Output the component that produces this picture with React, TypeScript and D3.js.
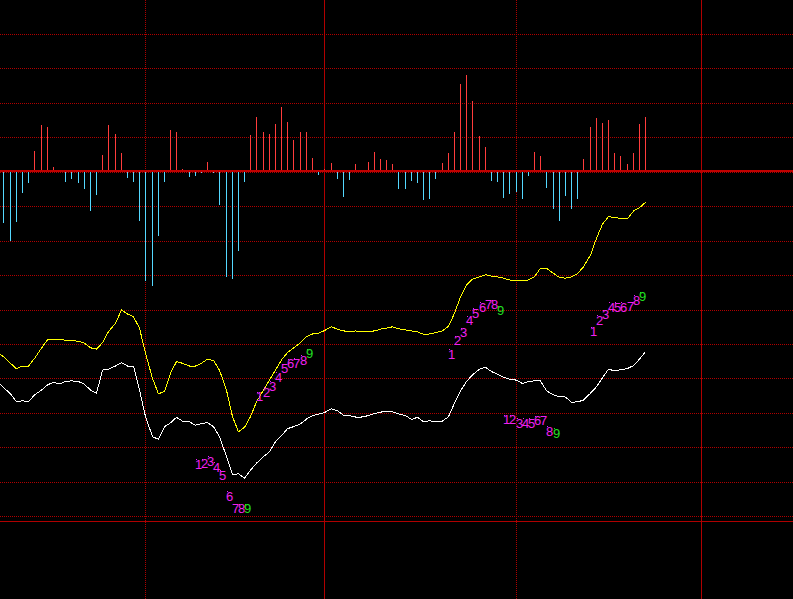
import React from "react";
import * as d3 from "d3";

const W = 793;
const H = 599;

// histogram values (zero line = 0), one per bar index 0..104
const histValues = [
  -15.1, -20.3, -14.8, -6.4, -3.5, 5.7, 13.3, 12.7, 1.1, 0,
  -3.2, -2.3, -3.5, -5.2, -11.6, -7.0, 4.6, 13.3, 10.7, 5.1,
  -2.0, -3.2, -14.5, -31.9, -33.4, -18.9, -3.2, 11.8, 11.2, 0.5,
  -1.7, -1.5, -0.4, 2.5, -0.6, -9.9, -30.8, -31.4, -23.2, -3.2,
  10.4, 15.6, 11.2, 10.7, 13.6, 18.5, 14.1, 8.9, 11.2, 11.2,
  3.7, -1.2, 0.4, 2.2, -2.3, -7.5, -2.6, 1.9, 0, 2.5,
  5.4, 3.4, 3.1, 1.9, -5.2, -5.2, -2.9, -3.5, -8.4, -8.1,
  -2.3, 2.2, 5.1, 11.2, 25.2, 27.8, 20.2, 10.1, 6.9, -2.9,
  -3.2, -7.8, -6.7, -6.1, -8.1, -1.5, 5.4, 4.3, -4.9, -11.0,
  -14.5, -7.3, -11.0, -8.1, 3.4, 12.7, 15.3, 13.9, 14.7, 5.1,
  4.3, 1.9, 5.1, 13.6, 15.6,
];

// line values, index -1..104
const yellowValues = [
  47.5,
  46.3, 44.4, 42.8, 43.6, 43.6, 45.8, 48.8, 51.2, 51.4, 51.4,
  51.1, 51.0, 50.8, 50.2, 48.9, 48.5, 50.4, 53.6, 56.0, 59.9,
  58.7, 57.9, 54.6, 47.3, 40.0, 35.5, 36.3, 41.5, 44.9, 44.4,
  43.6, 43.6, 44.4, 45.6, 45.2, 42.4, 36.6, 28.9, 24.5, 25.8,
  28.9, 33.2, 36.6, 39.5, 42.4, 45.4, 47.5, 48.8, 50.4, 52.1,
  52.9, 53.1, 53.9, 55.0, 54.3, 53.8, 53.6, 53.8, 53.6, 53.6,
  53.8, 54.3, 54.6, 55.0, 54.4, 54.1, 53.8, 53.5, 52.8, 52.9,
  53.3, 53.8, 55.2, 58.9, 63.7, 67.1, 68.8, 69.5, 70.1, 69.7,
  69.5, 69.1, 68.6, 68.3, 68.3, 68.6, 69.5, 72.0, 72.0, 70.5,
  69.3, 69.1, 69.5, 70.4, 72.4, 75.8, 80.7, 84.8, 87.0, 86.7,
  86.5, 86.3, 88.6, 89.6, 91.1,
];

const whiteValues = [
  39.0,
  37.4, 35.5, 33.2, 33.5, 33.2, 35.2, 36.6, 38.1, 38.9, 38.4,
  39.1, 39.3, 39.1, 38.3, 36.6, 35.7, 42.4, 42.7, 43.6, 44.6,
  43.6, 43.6, 36.6, 28.9, 23.1, 22.3, 26.0, 27.1, 28.7, 27.6,
  27.4, 26.4, 26.9, 27.2, 26.0, 23.1, 17.3, 12.0, 12.3, 11.0,
  13.4, 15.4, 17.3, 18.7, 21.6, 23.4, 25.4, 26.0, 26.8, 28.2,
  29.2, 29.6, 30.1, 31.2, 30.6, 29.3, 29.2, 28.8, 28.8, 29.2,
  29.8, 30.2, 30.5, 30.3, 29.7, 29.2, 28.1, 28.7, 27.4, 27.7,
  27.4, 27.6, 28.9, 32.8, 36.4, 39.1, 41.0, 42.7, 43.2, 42.0,
  41.2, 40.4, 39.8, 39.5, 38.5, 39.1, 39.3, 39.3, 36.4, 35.2,
  34.7, 34.6, 33.1, 33.2, 33.7, 35.7, 37.6, 40.2, 42.7, 42.2,
  42.5, 42.9, 43.7, 45.6, 47.8,
];

const gridLevels = [0, 10, 20, 30, 40, 50, 60, 70, 80, 90, 100, 110, 120, 130, 140];
const separatorIndex = [23, 52, 83, 113];
const separatorSolid = [false, true, false, true];

const countLabels = ["1", "2", "3", "4", "5", "6", "7", "8", "9"];
const countStarts = [31, 41, 72, 81, 95];
const countLevels = [
  [15.1, 15.3, 15.9, 14.2, 11.9, 5.8, 2.2, 2.2, 2.2],
  [34.7, 36.1, 37.7, 40.3, 42.8, 44.3, 44.5, 45.3, 47.2],
  [47.0, 51.0, 53.3, 56.8, 58.9, 60.7, 61.4, 61.4, 59.7],
  [28.0, 28.0, 27.0, 27.0, 27.0, 27.7, 27.7, 24.7, 24.1],
  [53.6, 57.0, 58.5, 60.7, 60.7, 60.7, 60.8, 62.8, 63.7],
];

const GRID = "#b00000";
const RED = "#ff3c3c";
const CYAN = "#54d8ff";
const MAGENTA = "#f020f0";
const GREEN = "#22e022";

export default function App() {
  const xScale = d3.scaleLinear().domain([0, 104]).range([3.49, 3.49 + 6.17 * 104]);
  const yScale = d3.scaleLinear().domain([0, 140]).range([516.2, 34]);
  const barScale = d3.scaleLinear().domain([0, 10]).range([170.7, 170.7 - 34.44]);
  const col = (i: number) => Math.round(xScale(i));

  const line = d3
    .line<number>()
    .x((_, i) => col(i - 1) + 0.5)
    .y((d) => yScale(d));

  const fontSize = 13;

  return (
    <svg
      width={W}
      height={H}
      style={{ position: "absolute", left: 0, top: 0, background: "#000" }}
    >
      <rect x={0} y={0} width={W} height={H} fill="#000" />
      {/* horizontal grid */}
      {gridLevels.map((g) => {
        const y = Math.round(yScale(g)) + 0.5;
        return (
          <line
            key={"h" + g}
            x1={0}
            x2={W}
            y1={y}
            y2={y}
            stroke={GRID}
            strokeWidth={1}
            strokeDasharray="1,1"
            shapeRendering="crispEdges"
          />
        );
      })}
      {/* bottom solid */}
      <line x1={0} x2={W} y1={521.5} y2={521.5} stroke={GRID} strokeWidth={1} shapeRendering="crispEdges" />
      {/* vertical separators */}
      {separatorIndex.map((s, k) => {
        const x = col(s) + 0.5;
        return (
          <line
            key={"v" + s}
            x1={x}
            x2={x}
            y1={0}
            y2={H}
            stroke={GRID}
            strokeWidth={1}
            strokeDasharray={separatorSolid[k] ? undefined : "1,1"}
            shapeRendering="crispEdges"
          />
        );
      })}
      {/* histogram */}
      {histValues.map((v, i) => {
        if (v === 0) return null;
        const x = col(i);
        if (v > 0) {
          const top = Math.round(barScale(v));
          const h = 170 - top;
          if (h <= 0) return null;
          return <rect key={"b" + i} x={x} y={top} width={1} height={h} fill={RED} shapeRendering="crispEdges" />;
        }
        const bottom = Math.round(barScale(v));
        const h = Math.max(1, bottom - 172);
        return <rect key={"b" + i} x={x} y={172} width={1} height={h} fill={CYAN} shapeRendering="crispEdges" />;
      })}
      {/* zero line */}
      <rect x={0} y={170} width={W} height={2} fill="#c00000" shapeRendering="crispEdges" />
      {/* lines */}
      <path d={line(yellowValues) || ""} fill="none" stroke="#ffff00" strokeWidth={1} shapeRendering="crispEdges" />
      <path d={line(whiteValues) || ""} fill="none" stroke="#ffffff" strokeWidth={1} shapeRendering="crispEdges" />
      {/* count labels */}
      {countStarts.map((start, g) =>
        countLevels[g].map((lv, k) => {
          const x = col(start + k);
          const cy = yScale(lv);
          const color = k === 8 ? GREEN : MAGENTA;
          return (
            <g key={"l" + g + "-" + k}>
              <rect x={x + 1} y={Math.round(cy - 5)} width={1} height={1} fill={color} />
              <text
                x={x}
                y={cy + fontSize * 0.36}
                fill={color}
                fontSize={fontSize}
                fontFamily="'Liberation Sans', Arial, sans-serif"
              >
                {countLabels[k]}
              </text>
            </g>
          );
        })
      )}
    </svg>
  );
}
